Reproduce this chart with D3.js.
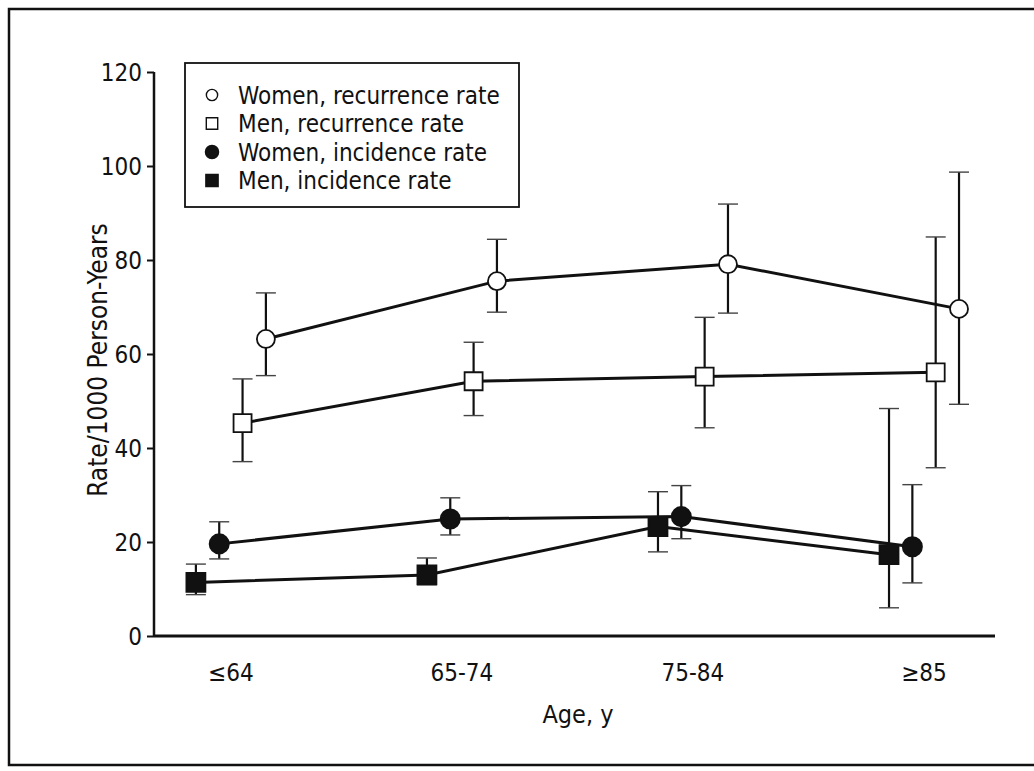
<!DOCTYPE html>
<html>
<head>
<meta charset="utf-8">
<script src="https://cdn.jsdelivr.net/npm/d3@7"></script>
<style>
  html, body { margin: 0; padding: 0; background: #fff; }
  svg text { font-family: "Liberation Sans Narrow", "Arial Narrow", "DejaVu Sans Condensed", sans-serif; fill: #111; }
</style>
</head>
<body>
<div id="chart"></div>
<script>
// Recurrence / incidence rate by age group

const AGE_GROUPS = ["≤64", "65-74", "75-84", "≥85"];
const Y_TICKS = [0, 20, 40, 60, 80, 100, 120];

const SERIES_NAMES = [
  "Women, recurrence rate",
  "Men, recurrence rate",
  "Women, incidence rate",
  "Men, incidence rate"
];

const WOMEN_RECURRENCE    = [63.2, 75.5, 79.1, 69.6];
const WOMEN_RECURRENCE_LO = [55.4, 68.9, 68.7, 49.3];
const WOMEN_RECURRENCE_HI = [73.0, 84.4, 91.9, 98.7];

const MEN_RECURRENCE    = [45.3, 54.2, 55.2, 56.1];
const MEN_RECURRENCE_LO = [37.1, 46.9, 44.3, 35.8];
const MEN_RECURRENCE_HI = [54.7, 62.5, 67.8, 84.9];

const WOMEN_INCIDENCE    = [19.6, 24.9, 25.4, 19.0];
const WOMEN_INCIDENCE_LO = [16.4, 21.5, 20.7, 11.3];
const WOMEN_INCIDENCE_HI = [24.3, 29.4, 32.0, 32.2];

const MEN_INCIDENCE    = [11.4, 13.0, 23.3, 17.3];
const MEN_INCIDENCE_LO = [8.8, 10.9, 17.9, 6.0];
const MEN_INCIDENCE_HI = [15.3, 16.6, 30.7, 48.4];

const ChartModule = (() => {

  const W = 1034, H = 771;

  function render() {
    const svg = d3.select("#chart").append("svg")
      .attr("width", W).attr("height", H);

    // ---- Outer frame ----
    svg.append("path")
      .attr("d", "M1034,9 H9 V765 H1034")
      .attr("fill", "none")
      .attr("stroke", "#111")
      .attr("stroke-width", 2.5);

    // ---- Series table ----
    const series = [
      { name: SERIES_NAMES[0], shape: "circle", filled: false, v: WOMEN_RECURRENCE, lo: WOMEN_RECURRENCE_LO, hi: WOMEN_RECURRENCE_HI },
      { name: SERIES_NAMES[1], shape: "square", filled: false, v: MEN_RECURRENCE, lo: MEN_RECURRENCE_LO, hi: MEN_RECURRENCE_HI },
      { name: SERIES_NAMES[2], shape: "circle", filled: true, v: WOMEN_INCIDENCE, lo: WOMEN_INCIDENCE_LO, hi: WOMEN_INCIDENCE_HI },
      { name: SERIES_NAMES[3], shape: "square", filled: true, v: MEN_INCIDENCE, lo: MEN_INCIDENCE_LO, hi: MEN_INCIDENCE_HI }
    ];
    series.forEach(s => {
      s.points = AGE_GROUPS.map((g, i) => ({ group: g, v: s.v[i], lo: s.lo[i], hi: s.hi[i] }));
    });

    // ---- Scales ----
    const x0 = 154, x1 = 995, y0 = 636, y1 = 72;
    const x = d3.scalePoint().domain(AGE_GROUPS).range([x0, x1]).padding(0.32).align(0.52);
    // points are dodged within each age group
    const dodge = d3.scalePoint()
      .domain([SERIES_NAMES[3], SERIES_NAMES[2], SERIES_NAMES[1], SERIES_NAMES[0]])
      .range([-35, 35]);
    const y = d3.scaleLinear().domain([0, 120]).range([y0, y1]);

    const px = (s, d) => x(d.group) + dodge(s.name);

    // ---- Axes ----
    const yAxis = svg.append("g")
      .attr("transform", `translate(${x0},0)`)
      .call(d3.axisLeft(y).tickValues(Y_TICKS).tickSize(7).tickPadding(5));
    yAxis.select(".domain").attr("stroke", "#111").attr("stroke-width", 2.5)
      .attr("d", `M0,${y0}V${y1}`);
    yAxis.selectAll(".tick line").attr("stroke", "#111").attr("stroke-width", 2);
    yAxis.selectAll(".tick text").style("font-size", "24px").attr("dy", "0.36em");

    svg.append("line")
      .attr("x1", x0).attr("x2", x1)
      .attr("y1", y0).attr("y2", y0)
      .attr("stroke", "#111").attr("stroke-width", 3);

    svg.append("g").selectAll("text")
      .data(AGE_GROUPS)
      .join("text")
      .attr("x", d => x(d))
      .attr("y", 681)
      .attr("text-anchor", "middle")
      .style("font-size", "24px")
      .text(d => d);

    svg.append("text")
      .attr("x", 578).attr("y", 723)
      .attr("text-anchor", "middle")
      .style("font-size", "25px")
      .text("Age, y");

    svg.append("text")
      .attr("transform", `translate(107,360) rotate(-90)`)
      .attr("text-anchor", "middle")
      .style("font-size", "26px")
      .text("Rate/1000 Person-Years");

    const plot = svg.append("g");

    // ---- Error bars ----
    series.forEach(s => {
      const eb = plot.append("g");
      eb.selectAll("line.stem")
        .data(s.points).join("line")
        .attr("class", "stem")
        .attr("x1", d => px(s, d)).attr("x2", d => px(s, d))
        .attr("y1", d => y(d.lo)).attr("y2", d => y(d.hi))
        .attr("stroke", "#111").attr("stroke-width", 2.2);
      eb.selectAll("line.cap")
        .data(s.points.flatMap(d => [{ d, v: d.lo }, { d, v: d.hi }])).join("line")
        .attr("class", "cap")
        .attr("x1", c => px(s, c.d) - 10).attr("x2", c => px(s, c.d) + 10)
        .attr("y1", c => y(c.v)).attr("y2", c => y(c.v))
        .attr("stroke", "#444").attr("stroke-width", 1.4);
    });

    // ---- Lines ----
    const line = d3.line();
    series.forEach(s => {
      plot.append("path")
        .attr("d", line(s.points.map(d => [px(s, d), y(d.v)])))
        .attr("fill", "none")
        .attr("stroke", "#111")
        .attr("stroke-width", 3);
    });

    // ---- Markers ----
    const sym = (shape, size) => d3.symbol()
      .type(shape === "circle" ? d3.symbolCircle : d3.symbolSquare)
      .size(size)();
    series.forEach(s => {
      const size = s.shape === "circle" ? (s.filled ? 290 : 254) : (s.filled ? 360 : 324);
      plot.append("g").selectAll("path")
        .data(s.points).join("path")
        .attr("transform", d => `translate(${px(s, d)},${y(d.v)})`)
        .attr("d", sym(s.shape, size))
        .attr("fill", s.filled ? "#111" : "#fff")
        .attr("stroke", "#111")
        .attr("stroke-width", 1.8);
    });

    // ---- Legend ----
    const legend = svg.append("g");
    legend.append("rect")
      .attr("x", 185).attr("y", 63)
      .attr("width", 334).attr("height", 144)
      .attr("fill", "#fff")
      .attr("stroke", "#111").attr("stroke-width", 1.8);

    const row = legend.selectAll("g.row")
      .data(series).join("g")
      .attr("class", "row")
      .attr("transform", (d, i) => `translate(212,${95 + i * 28.5})`);
    row.append("path")
      .attr("d", d => sym(d.shape, d.shape === "circle" ? (d.filled ? 135 : 100) : (d.filled ? 150 : 130)))
      .attr("fill", d => d.filled ? "#111" : "#fff")
      .attr("stroke", "#111")
      .attr("stroke-width", 1.4);
    row.append("text")
      .attr("x", 26)
      .attr("dy", "0.36em")
      .style("font-size", "24px")
      .text(d => d.name);
  }

  return { render };

})();

ChartModule.render();
</script>
</body>
</html>
